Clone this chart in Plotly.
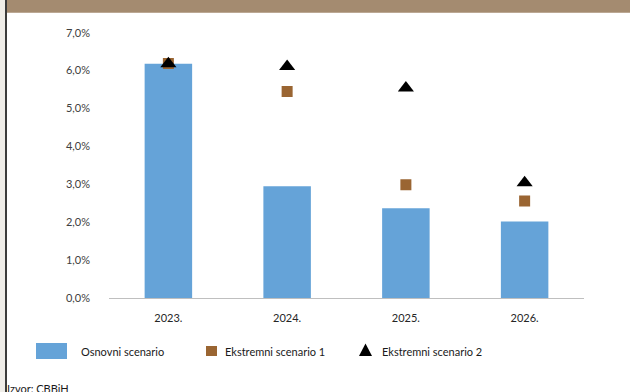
import plotly.graph_objects as go

categories = ["2023.", "2024.", "2025.", "2026."]
osnovni = [6.18, 2.95, 2.37, 2.02]
ekstremni1 = [6.19, 5.45, 2.99, 2.56]
ekstremni2 = [6.18, 6.11, 5.54, 3.04]
y_ticks = [0, 1, 2, 3, 4, 5, 6, 7]
y_tick_labels = [f"{v:.1f}%".replace(".", ",") for v in y_ticks]

names = ["Osnovni scenario", "Ekstremni scenario 1", "Ekstremni scenario 2"]
source = "Izvor: CBBiH"

BLUE = "#65A3D8"
BROWN = "#9A6532"
BLACK = "#000000"
W, H = 630, 392
FONT = "Lato"

def px(x):
    return x / W

def py(y):
    return 1 - y / H

fig = go.Figure()
fig.add_trace(go.Bar(x=categories, y=osnovni, name=names[0], marker_color=BLUE,
                     marker_line_width=0, width=0.4, showlegend=False))
fig.add_trace(go.Scatter(x=categories, y=ekstremni1, name=names[1], mode="markers",
                         marker=dict(symbol="square", size=11, color=BROWN), showlegend=False))
fig.add_trace(go.Scatter(x=categories, y=ekstremni2, name=names[2], mode="markers",
                         marker=dict(symbol="triangle-up", size=14, color=BLACK), showlegend=False))

shapes = [
    dict(type="rect", xref="paper", yref="paper", x0=px(6), x1=1, y0=py(12.7), y1=1,
         fillcolor="#A48B70", line_width=0, layer="below"),
    dict(type="rect", xref="paper", yref="paper", x0=0, x1=px(5), y0=0, y1=1,
         fillcolor="#EFEDE8", line_width=0, layer="below"),
    dict(type="rect", xref="paper", yref="paper", x0=px(5), x1=px(7), y0=0, y1=1,
         fillcolor="#3C3C3C", line_width=0, layer="below"),
    dict(type="rect", xref="paper", yref="paper", x0=px(36), x1=px(67), y0=py(359), y1=py(343),
         fillcolor=BLUE, line_width=0),
    dict(type="rect", xref="paper", yref="paper", x0=px(206), x1=px(217), y0=py(356), y1=py(346),
         fillcolor=BROWN, line_width=0),
    dict(type="path", xref="paper", yref="paper",
         path=f"M{px(359)},{py(356)} L{px(372)},{py(356)} L{px(365.5)},{py(343.5)} Z",
         fillcolor=BLACK, line_width=0),
]

LEG_FONT = dict(size=11, color="#1a1a1a", family=FONT)
annotations = [
    dict(text=names[0], x=px(79), y=py(351), xref="paper", yref="paper", xanchor="left",
         yanchor="middle", showarrow=False, font=LEG_FONT),
    dict(text=names[1], x=px(223), y=py(351), xref="paper", yref="paper", xanchor="left",
         yanchor="middle", showarrow=False, font=LEG_FONT),
    dict(text=names[2], x=px(380), y=py(351), xref="paper", yref="paper", xanchor="left",
         yanchor="middle", showarrow=False, font=LEG_FONT),
    dict(text=source, x=px(5), y=py(388), xref="paper", yref="paper", xanchor="left",
         yanchor="middle", showarrow=False, font=dict(size=11, color="#1a1a1a", family=FONT)),
]

fig.update_layout(
    width=W, height=H,
    margin=dict(l=0, r=0, t=0, b=0, pad=0),
    paper_bgcolor="white", plot_bgcolor="white",
    font=dict(family=FONT, size=11, color="#404040"),
    shapes=shapes, annotations=annotations,
    xaxis=dict(domain=[px(109), px(584)], showgrid=False, showline=True, linecolor="#BFBFBF",
               linewidth=1, ticks="", ticklabelstandoff=10, automargin=False,
               tickfont=dict(size=11, color="#262626")),
    yaxis=dict(domain=[py(298), py(32.7)], range=[0, 7], tickvals=y_ticks,
               ticktext=y_tick_labels, showgrid=False, automargin=False,
               zeroline=False, showline=False, ticks="",
               ticklabelstandoff=18, tickfont=dict(size=11, color="#404040")),
)

fig.write_html("out.html", config={"displayModeBar": False},
               post_script="document.body.style.margin='0';")
